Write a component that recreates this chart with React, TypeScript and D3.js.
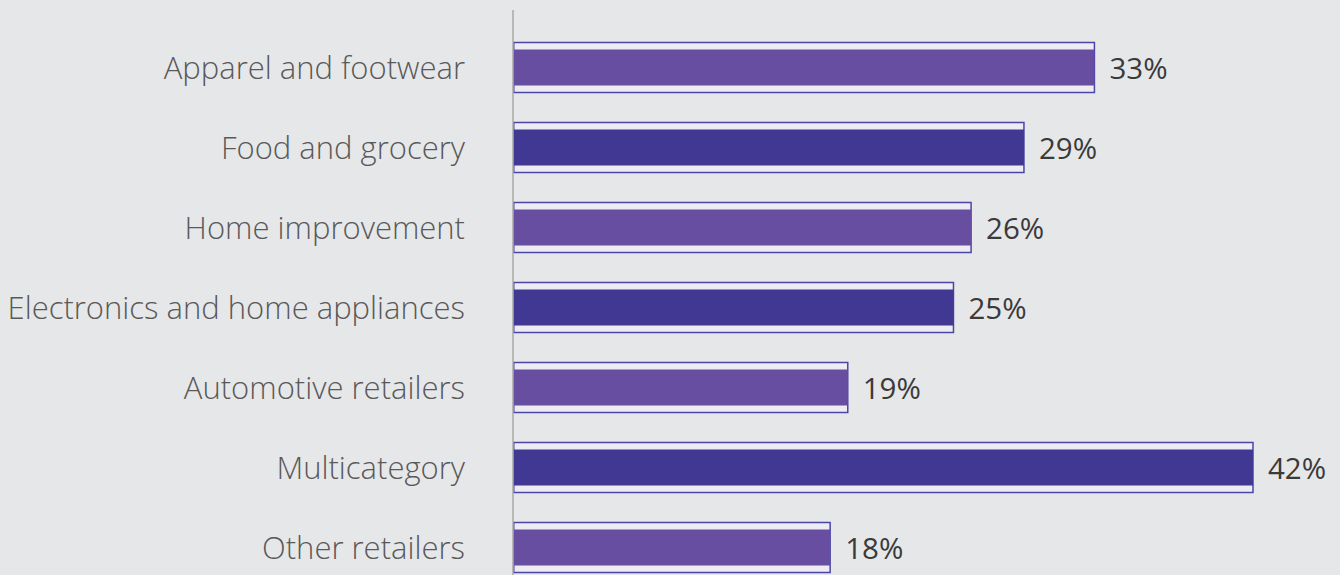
import React from "react";
import * as d3 from "d3";

const categories = [
  "Apparel and footwear",
  "Food and grocery",
  "Home improvement",
  "Electronics and home appliances",
  "Automotive retailers",
  "Multicategory",
  "Other retailers",
];
const values = [33, 29, 26, 25, 19, 42, 18];
const fills = ["#674ea0", "#403893", "#674ea0", "#403893", "#674ea0", "#403893", "#674ea0"];

const W = 1340;
const H = 575;
const X0 = 513;

export default function App() {
  const x = d3.scaleLinear().domain([0, 42]).range([X0, 1253]);
  const y = d3.scalePoint<string>().domain(categories).range([67.5, 547.5]);
  const outerH = 50;
  const innerH = 36;
  return (
    <svg
      width={W}
      height={H}
      style={{ position: "absolute", left: 0, top: 0, display: "block", background: "#e6e7e9" }}
    >
      <rect x={0} y={0} width={W} height={H} fill="#e6e7e9" />
      {categories.map((c, i) => {
        const cy = y(c) as number;
        const xe = x(values[i]);
        return (
          <g key={c}>
            <rect
              x={X0 + 0.75}
              y={cy - outerH / 2}
              width={xe - X0 - 0.75}
              height={outerH}
              fill="#ececf2"
              stroke="#4b45a8"
              strokeWidth={1.5}
            />
            <rect x={X0} y={cy - innerH / 2} width={xe - X0} height={innerH} fill={fills[i]} />
            <text
              x={465}
              y={cy + 11.8}
              textAnchor="end"
              fontFamily="Open Sans"
              fontWeight={300}
              fontSize={31}
              fill="#595959"
            >
              {c}
            </text>
            <text
              x={xe + 15}
              y={cy + 11.8}
              fontFamily="Open Sans"
              fontWeight={400}
              fontSize={29.5}
              fill="#3a3a3a"
            >
              {values[i]}%
            </text>
          </g>
        );
      })}
      <line x1={X0} x2={X0} y1={10} y2={H} stroke="#a9a9a9" strokeWidth={1.5} />
    </svg>
  );
}
